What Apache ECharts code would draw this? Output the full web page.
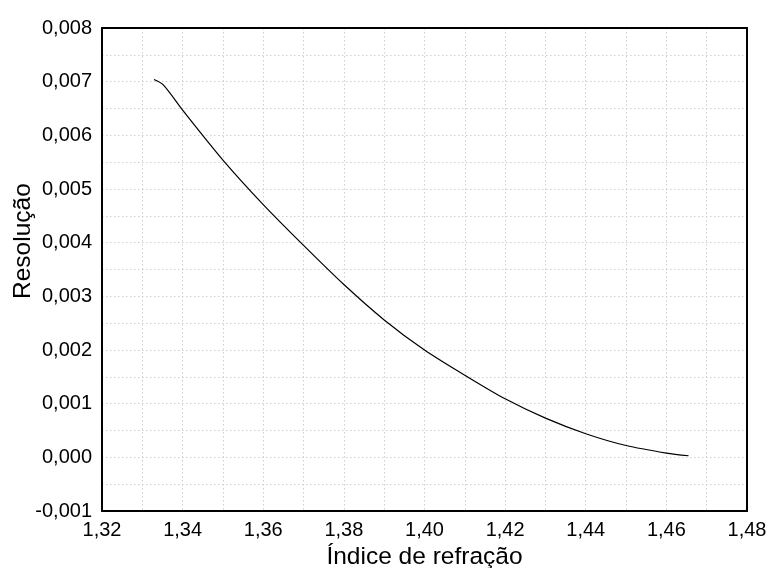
<!DOCTYPE html>
<html>
<head>
<meta charset="utf-8">
<script src="https://cdn.jsdelivr.net/npm/echarts@6/dist/echarts.min.js"></script>
<style>
html,body{margin:0;padding:0;background:#fff;}
#chart{width:771px;height:568px;}
</style>
</head>
<body>
<div id="chart"></div>
<script>
var indiceRefracao = [1.3329, 1.3352, 1.34, 1.35, 1.36, 1.37, 1.38, 1.39, 1.40, 1.41, 1.42, 1.43, 1.44, 1.45, 1.46, 1.4655];
var resolucao = [0.00704, 0.00694, 0.00647, 0.00554, 0.00471, 0.00395, 0.00322, 0.00256, 0.00200, 0.00153, 0.00109, 0.00073, 0.00044, 0.00022, 0.00008, 0.00003];
var xAxisName = 'Índice de refração';
var yAxisName = 'Resolução';

var seriesData = indiceRefracao.map(function (x, i) { return [x, resolucao[i]]; });
var font = 'Liberation Sans, Arial, sans-serif';
var gridLine = { show: true, lineStyle: { color: '#cfcfcf', type: [1.5, 2.5], width: 1 } };
var frameLine = { show: true, onZero: false, lineStyle: { color: '#000', width: 2 } };

var chart = echarts.init(document.getElementById('chart'));
chart.setOption({
  animation: false,
  backgroundColor: '#fff',
  grid: { left: 102, right: 24, top: 28, bottom: 57, containLabel: false, outerBoundsMode: 'none' },
  xAxis: [{
    type: 'value', min: 1.32, max: 1.48, interval: 0.02, position: 'bottom',
    name: xAxisName, nameLocation: 'middle', nameGap: 34,
    nameTextStyle: { fontFamily: font, fontSize: 24.5, color: '#000' },
    axisLine: frameLine, axisTick: { show: false },
    axisLabel: { fontFamily: font, fontSize: 20, color: '#000', margin: 9,
      formatter: function (v) { return v.toFixed(2).replace('.', ','); } },
    splitLine: gridLine, minorTick: { show: false, splitNumber: 2 }, minorSplitLine: gridLine
  }, {
    type: 'value', min: 1.32, max: 1.48, interval: 0.02, position: 'top',
    axisLine: frameLine, axisTick: { show: false }, axisLabel: { show: false }, splitLine: { show: false }
  }],
  yAxis: [{
    type: 'value', min: -0.001, max: 0.008, interval: 0.001, position: 'left',
    axisLine: frameLine, axisTick: { show: false },
    axisLabel: { fontFamily: font, fontSize: 20, color: '#000', margin: 10,
      formatter: function (v) { return v.toFixed(3).replace('.', ',').replace('-0,000', '0,000'); } },
    splitLine: gridLine, minorTick: { show: false, splitNumber: 2 }, minorSplitLine: gridLine
  }, {
    type: 'value', min: -0.001, max: 0.008, interval: 0.001, position: 'right',
    axisLine: frameLine, axisTick: { show: false }, axisLabel: { show: false }, splitLine: { show: false }
  }],
  graphic: [{
    type: 'text',
    style: { text: yAxisName, fontFamily: font, fontSize: 24.5, fill: '#000' },
    rotation: Math.PI / 2,
    x: 11, y: 299
  }],
  series: [{
    type: 'line', data: seriesData, showSymbol: false, smooth: 0.3,
    lineStyle: { color: '#000', width: 1.2 }, z: 5
  }]
});
</script>
</body>
</html>
